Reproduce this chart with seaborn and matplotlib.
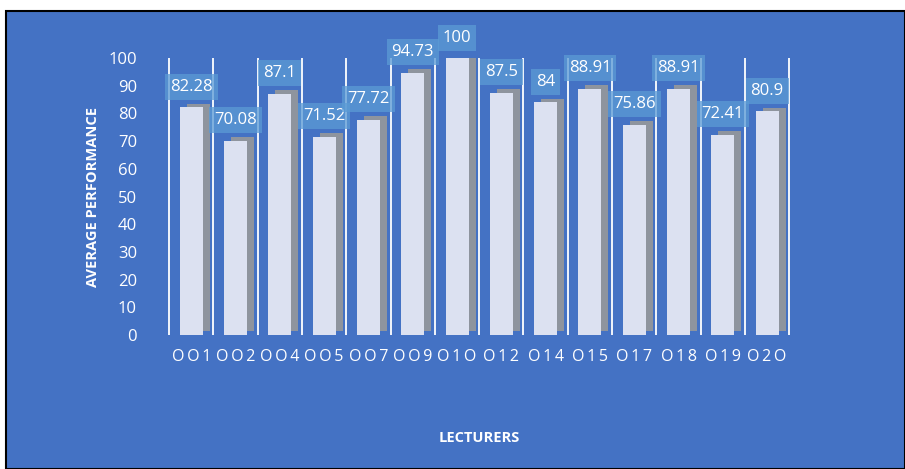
import matplotlib
matplotlib.use("Agg")
import matplotlib.pyplot as plt
import matplotlib.patheffects as pe
from matplotlib.patches import Rectangle
import seaborn as sns
import pandas as pd
import numpy as np

lecturers = ["OO1", "OO2", "OO4", "OO5", "OO7", "OO9", "O1O", "O12", "O14",
             "O15", "O17", "O18", "O19", "O2O"]
performance = [82.28, 70.08, 87.1, 71.52, 77.72, 94.73, 100, 87.5, 84,
               88.91, 75.86, 88.91, 72.41, 80.9]
label_text = ["82.28", "70.08", "87.1", "71.52", "77.72", "94.73", "100", "87.5",
              "84", "88.91", "75.86", "88.91", "72.41", "80.9"]
y_ticks = list(range(0, 101, 10))

BLUE = "#4472C4"
BAR = "#DCE1F1"
SIDE = "#8E949E"
WHITE = "#FFFFFF"

sns.set_theme(style="white")
plt.rcParams["font.family"] = ["Open Sans", "DejaVu Sans"]

df = pd.DataFrame({"Lecturer": lecturers, "Performance": performance})

fig = plt.figure(figsize=(9.05, 4.69), dpi=100, facecolor="white")
fig.patches.append(Rectangle((6 / 905, 0), 1 - 6 / 905, 1 - 11 / 469,
                             transform=fig.transFigure, facecolor=BLUE,
                             edgecolor="black", linewidth=1.5, zorder=-5))

ax = fig.add_axes([0.182, 0.286, 0.695, 0.59])
ax.set_facecolor("none")
ax.set_zorder(2)

sns.barplot(data=df, x="Lecturer", y="Performance", color=BAR, width=0.52,
            saturation=1, ax=ax, zorder=3)

for p in ax.patches:
    p.set_path_effects([pe.SimplePatchShadow(offset=(5, 2.5), shadow_rgbFace=SIDE,
                                             alpha=1.0), pe.Normal()])
    p.set_edgecolor("none")

for c in ax.containers:
    ax.bar_label(c, labels=label_text, padding=9, color=WHITE, fontsize=12,
                 bbox=dict(boxstyle="square,pad=0.3", facecolor="#5B9BD5",
                           edgecolor="none", alpha=0.75), zorder=5)

ax.set_ylim(0, 100)
ax.set_xlim(-0.6, len(lecturers) - 0.4)
ax.set_yticks(y_ticks)
ax.set_yticklabels([str(v) for v in y_ticks], color=WHITE, fontsize=12)
ax.set_xticks(range(len(lecturers)))
ax.set_xticklabels(["\u2009".join(s) for s in lecturers], color=WHITE, fontsize=11.5)
ax.set_xticks(np.arange(-0.5, len(lecturers), 1.0), minor=True)
ax.tick_params(axis="both", which="both", length=0, pad=10)
ax.tick_params(axis="y", pad=20)
ax.grid(which="minor", axis="x", color=WHITE, linewidth=1.3, zorder=1)
ax.grid(which="major", axis="y", visible=False)
for s in ax.spines.values():
    s.set_visible(False)

ax.set_xlabel("LECTURERS", color=WHITE, fontsize=10.5, fontweight="bold", labelpad=48)
ax.set_ylabel("AVERAGE PERFORMANCE", color=WHITE, fontsize=10.5, fontweight="bold",
              labelpad=6)

fig.savefig("out.png", dpi=100, facecolor=fig.get_facecolor())
